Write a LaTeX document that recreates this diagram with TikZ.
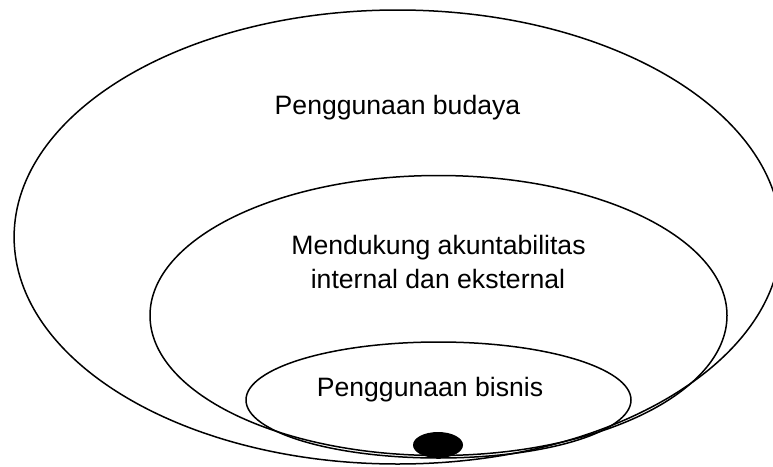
\documentclass[tikz,border=0pt]{standalone}
\usepackage{fontspec}
\setmainfont{Liberation Sans}
\usetikzlibrary{shapes.geometric}
\begin{document}
\begin{tikzpicture}[x=1pt,y=-1pt,
  ring/.style={draw=black, line width=1.5pt, ellipse, inner sep=0pt, outer sep=0pt},
  lbl/.style={anchor=base, inner sep=0pt, font=\fontsize{26.6}{32}\selectfont}]
\useasboundingbox (0,0) rectangle (773,466);
\clip (0,0) rectangle (773,466);
\fill[white] (0,0) rectangle (773,466);
\node[ring, minimum width=767pt, minimum height=454pt] (outer) at (397.6,237) {};
\node[ring, minimum width=577pt, minimum height=280pt] (middle) at (438.5,315.5) {};
\node[ring, minimum width=385pt, minimum height=116pt] (inner) at (438.5,400) {};
\node[ellipse, fill=black, inner sep=0pt, minimum width=50pt, minimum height=26pt] (dot) at (438,445) {};
\node[lbl] (t1) at (397.5,114) {Penggunaan budaya};
\node[lbl] (t2) at (438.5,254) {Mendukung akuntabilitas};
\node[lbl] (t3) at (438,288) {internal dan eksternal};
\node[lbl] (t4) at (430,396) {Penggunaan bisnis};
\end{tikzpicture}
\end{document}
